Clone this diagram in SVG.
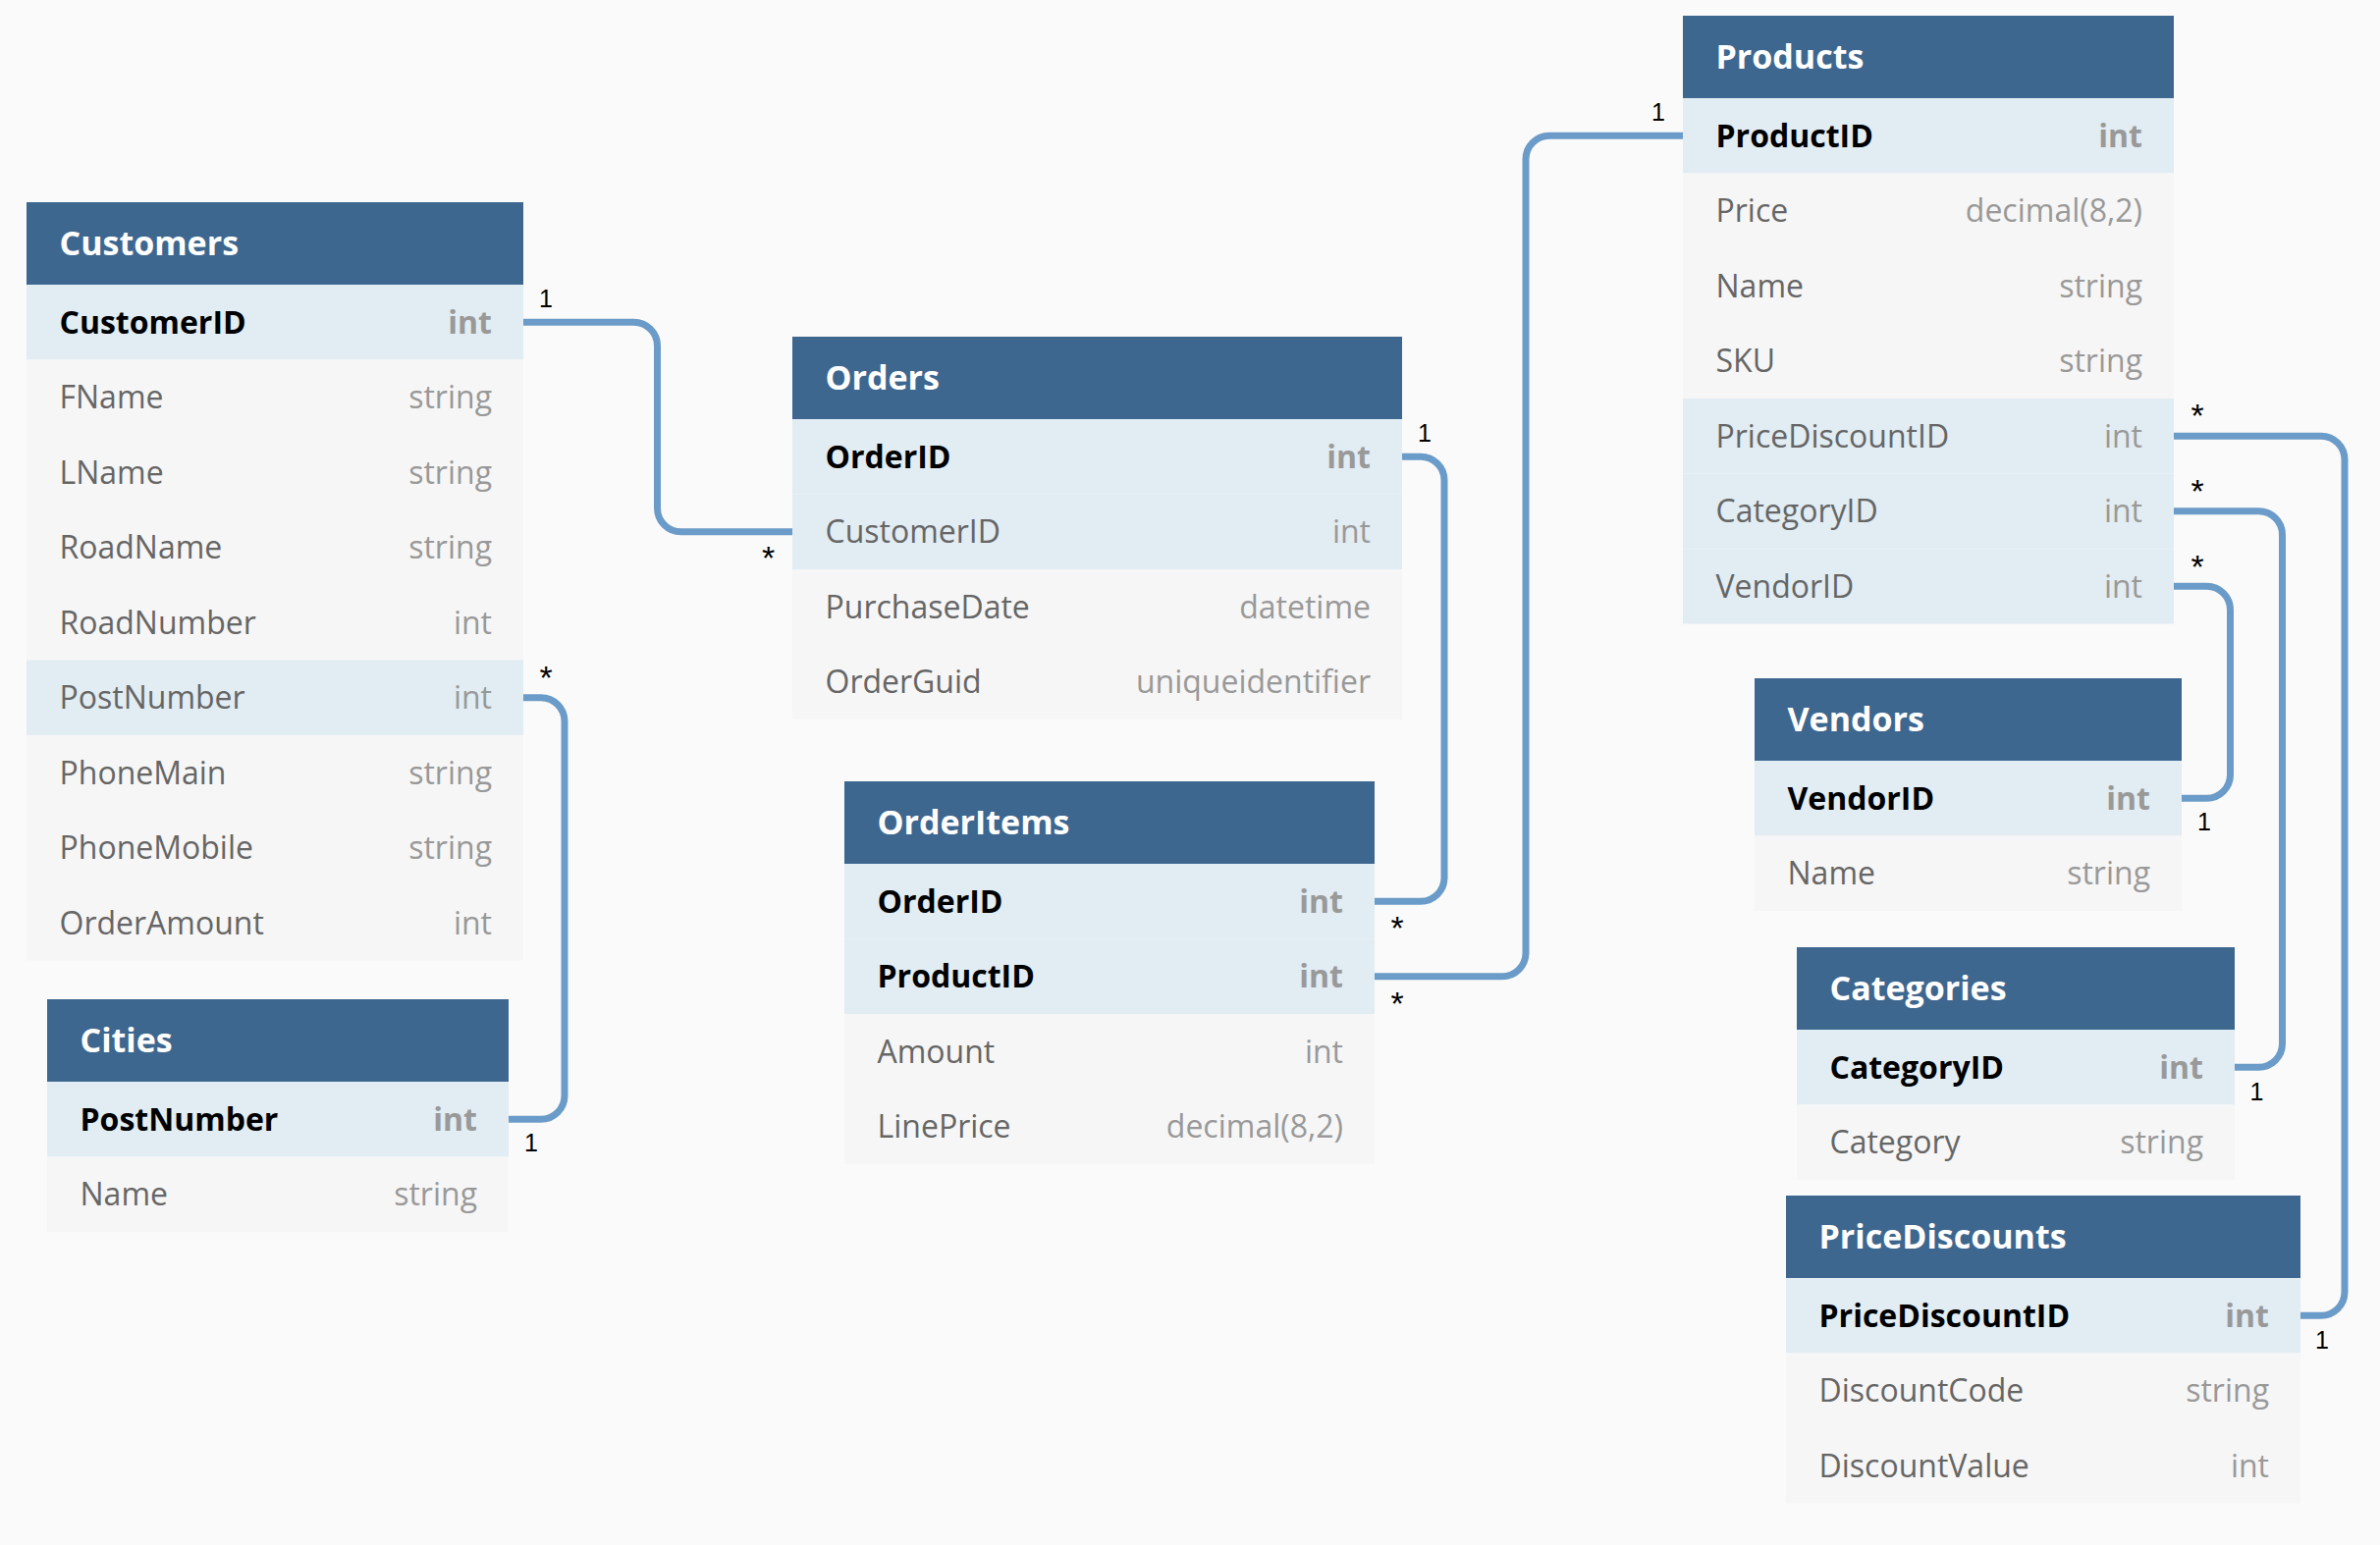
<svg xmlns="http://www.w3.org/2000/svg" width="2424" height="1574" viewBox="0 0 2424 1574">
<style>
.bg{fill:#fafafa}
.hdr{fill:#3e6790}
.pk{fill:#e1ecf3}
.row{fill:#f6f6f6}
.title{font-family:"Open Sans",sans-serif;font-size:34px;font-weight:700;fill:#ffffff}
.n{font-family:"Open Sans",sans-serif;font-size:32px;fill:#666666}
.nb{font-family:"Open Sans",sans-serif;font-size:32px;font-weight:700;fill:#000000}
.t{font-family:"Open Sans",sans-serif;font-size:32px;fill:#999999;text-anchor:end}
.tb{font-family:"Open Sans",sans-serif;font-size:32px;font-weight:700;fill:#999999;text-anchor:end}
.conn{fill:none;stroke:#6b9bc8;stroke-width:7}
.lbl{font-family:"Liberation Sans",Arial,sans-serif;font-size:25px;fill:#000000;text-anchor:middle}
.star{font-family:"Liberation Sans",Arial,sans-serif;font-size:34px;fill:#000000;text-anchor:middle}
</style>
<rect class="bg" x="0" y="0" width="2424" height="1574"/>

<g id="connectors">
<path class="conn" d="M533 328.25 H645.5 A24 24 0 0 1 669.5 352.25 V517.75 A24 24 0 0 0 693.5 541.75 H807"/>
<path class="conn" d="M533 710.75 H551 A24 24 0 0 1 575 734.75 V1116.25 A24 24 0 0 1 551 1140.25 H518"/>
<path class="conn" d="M1428 465.25 H1447 A24 24 0 0 1 1471 489.25 V894.25 A24 24 0 0 1 1447 918.25 H1400"/>
<path class="conn" d="M1400 994.75 H1530 A24 24 0 0 0 1554 970.75 V162.25 A24 24 0 0 1 1578 138.25 H1714"/>
<path class="conn" d="M2214 444.25 H2364 A24 24 0 0 1 2388 468.25 V1316.25 A24 24 0 0 1 2364 1340.25 H2343"/>
<path class="conn" d="M2214 520.75 H2300.5 A24 24 0 0 1 2324.5 544.75 V1063.25 A24 24 0 0 1 2300.5 1087.25 H2276"/>
<path class="conn" d="M2214 597.25 H2247.5 A24 24 0 0 1 2271.5 621.25 V789.25 A24 24 0 0 1 2247.5 813.25 H2222"/>
<text class="lbl" x="556" y="313">1</text>
<text class="star" x="782.5" y="580">*</text>
<text class="star" x="556" y="702">*</text>
<text class="lbl" x="541" y="1173">1</text>
<text class="lbl" x="1451" y="450">1</text>
<text class="star" x="1423" y="957">*</text>
<text class="star" x="1423" y="1034">*</text>
<text class="lbl" x="1689" y="123">1</text>
<text class="star" x="2238" y="435">*</text>
<text class="lbl" x="2365" y="1374">1</text>
<text class="star" x="2238" y="512">*</text>
<text class="lbl" x="2298.5" y="1121">1</text>
<text class="star" x="2238" y="589">*</text>
<text class="lbl" x="2245" y="846">1</text>
</g>

<g id="customers">
<rect class="hdr" x="27" y="206" width="506" height="84"/>
<text class="title" x="60.5" y="260">Customers</text>
<rect class="pk" x="27" y="290" width="506" height="76.5"/>
<rect class="row" x="27" y="366.5" width="506" height="306"/>
<rect class="pk" x="27" y="672.5" width="506" height="76.5"/>
<rect class="row" x="27" y="749" width="506" height="229.5"/>
<text class="nb" x="60.5" y="339.75">CustomerID</text><text class="tb" x="501" y="339.75">int</text>
<text class="n" x="60.5" y="416.25">FName</text><text class="t" x="501" y="416.25">string</text>
<text class="n" x="60.5" y="492.75">LName</text><text class="t" x="501" y="492.75">string</text>
<text class="n" x="60.5" y="569.25">RoadName</text><text class="t" x="501" y="569.25">string</text>
<text class="n" x="60.5" y="645.75">RoadNumber</text><text class="t" x="501" y="645.75">int</text>
<text class="n" x="60.5" y="722.25">PostNumber</text><text class="t" x="501" y="722.25">int</text>
<text class="n" x="60.5" y="798.75">PhoneMain</text><text class="t" x="501" y="798.75">string</text>
<text class="n" x="60.5" y="875.25">PhoneMobile</text><text class="t" x="501" y="875.25">string</text>
<text class="n" x="60.5" y="951.75">OrderAmount</text><text class="t" x="501" y="951.75">int</text>
</g>

<g id="cities">
<rect class="hdr" x="48" y="1018" width="470" height="84"/>
<text class="title" x="81.5" y="1072">Cities</text>
<rect class="pk" x="48" y="1102" width="470" height="76.5"/>
<rect class="row" x="48" y="1178.5" width="470" height="76.5"/>
<text class="nb" x="81.5" y="1151.75">PostNumber</text><text class="tb" x="486" y="1151.75">int</text>
<text class="n" x="81.5" y="1228.25">Name</text><text class="t" x="486" y="1228.25">string</text>
</g>

<g id="orders">
<rect class="hdr" x="807" y="343" width="621" height="84"/>
<text class="title" x="840.5" y="397">Orders</text>
<rect class="pk" x="807" y="427" width="621" height="153"/>
<line x1="807" y1="503.5" x2="1428" y2="503.5" stroke="#e8f0f5" stroke-width="1"/>
<rect class="row" x="807" y="580" width="621" height="153"/>
<text class="nb" x="840.5" y="476.75">OrderID</text><text class="tb" x="1396" y="476.75">int</text>
<text class="n" x="840.5" y="553.25">CustomerID</text><text class="t" x="1396" y="553.25">int</text>
<text class="n" x="840.5" y="629.75">PurchaseDate</text><text class="t" x="1396" y="629.75">datetime</text>
<text class="n" x="840.5" y="706.25">OrderGuid</text><text class="t" x="1396" y="706.25">uniqueidentifier</text>
</g>

<g id="orderitems">
<rect class="hdr" x="860" y="796" width="540" height="84"/>
<text class="title" x="893.5" y="850">OrderItems</text>
<rect class="pk" x="860" y="880" width="540" height="153"/>
<line x1="860" y1="956.5" x2="1400" y2="956.5" stroke="#e8f0f5" stroke-width="1"/>
<rect class="row" x="860" y="1033" width="540" height="153"/>
<text class="nb" x="893.5" y="929.75">OrderID</text><text class="tb" x="1368" y="929.75">int</text>
<text class="nb" x="893.5" y="1006.25">ProductID</text><text class="tb" x="1368" y="1006.25">int</text>
<text class="n" x="893.5" y="1082.75">Amount</text><text class="t" x="1368" y="1082.75">int</text>
<text class="n" x="893.5" y="1159.25">LinePrice</text><text class="t" x="1368" y="1159.25">decimal(8,2)</text>
</g>

<g id="products">
<rect class="hdr" x="1714" y="16" width="500" height="84"/>
<text class="title" x="1747.5" y="70">Products</text>
<rect class="pk" x="1714" y="100" width="500" height="76.5"/>
<rect class="row" x="1714" y="176.5" width="500" height="229.5"/>
<rect class="pk" x="1714" y="406" width="500" height="229.5"/>
<line x1="1714" y1="482.5" x2="2214" y2="482.5" stroke="#e8f0f5" stroke-width="1"/>
<line x1="1714" y1="559" x2="2214" y2="559" stroke="#e8f0f5" stroke-width="1"/>
<text class="nb" x="1747.5" y="149.75">ProductID</text><text class="tb" x="2182" y="149.75">int</text>
<text class="n" x="1747.5" y="226.25">Price</text><text class="t" x="2182" y="226.25">decimal(8,2)</text>
<text class="n" x="1747.5" y="302.75">Name</text><text class="t" x="2182" y="302.75">string</text>
<text class="n" x="1747.5" y="379.25">SKU</text><text class="t" x="2182" y="379.25">string</text>
<text class="n" x="1747.5" y="455.75">PriceDiscountID</text><text class="t" x="2182" y="455.75">int</text>
<text class="n" x="1747.5" y="532.25">CategoryID</text><text class="t" x="2182" y="532.25">int</text>
<text class="n" x="1747.5" y="608.75">VendorID</text><text class="t" x="2182" y="608.75">int</text>
</g>

<g id="vendors">
<rect class="hdr" x="1787" y="691" width="435" height="84"/>
<text class="title" x="1820.5" y="745">Vendors</text>
<rect class="pk" x="1787" y="775" width="435" height="76.5"/>
<rect class="row" x="1787" y="851.5" width="435" height="76.5"/>
<text class="nb" x="1820.5" y="824.75">VendorID</text><text class="tb" x="2190" y="824.75">int</text>
<text class="n" x="1820.5" y="901.25">Name</text><text class="t" x="2190" y="901.25">string</text>
</g>

<g id="categories">
<rect class="hdr" x="1830" y="965" width="446" height="84"/>
<text class="title" x="1863.5" y="1019">Categories</text>
<rect class="pk" x="1830" y="1049" width="446" height="76.5"/>
<rect class="row" x="1830" y="1125.5" width="446" height="76.5"/>
<text class="nb" x="1863.5" y="1098.75">CategoryID</text><text class="tb" x="2244" y="1098.75">int</text>
<text class="n" x="1863.5" y="1175.25">Category</text><text class="t" x="2244" y="1175.25">string</text>
</g>

<g id="pricediscounts">
<rect class="hdr" x="1819" y="1218" width="524" height="84"/>
<text class="title" x="1852.5" y="1272">PriceDiscounts</text>
<rect class="pk" x="1819" y="1302" width="524" height="76.5"/>
<rect class="row" x="1819" y="1378.5" width="524" height="153"/>
<text class="nb" x="1852.5" y="1351.75">PriceDiscountID</text><text class="tb" x="2311" y="1351.75">int</text>
<text class="n" x="1852.5" y="1428.25">DiscountCode</text><text class="t" x="2311" y="1428.25">string</text>
<text class="n" x="1852.5" y="1504.75">DiscountValue</text><text class="t" x="2311" y="1504.75">int</text>
</g>
</svg>
